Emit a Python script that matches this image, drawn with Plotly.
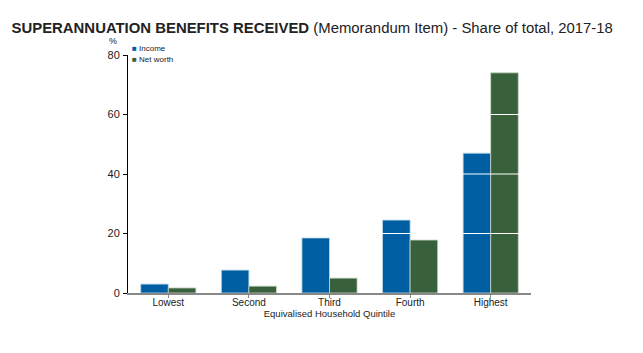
import plotly.graph_objects as go

categories = ["Lowest", "Second", "Third", "Fourth", "Highest"]
income = [3.0, 7.7, 18.5, 24.5, 47.0]
net_worth = [1.7, 2.3, 5.0, 17.8, 74.0]
y_ticks = [0, 20, 40, 60, 80]

BLUE = "#005EA2"
GREEN = "#38603A"
FONT = "Liberation Sans, Arial, sans-serif"

fig = go.Figure()
fig.add_trace(go.Bar(name="Income", x=categories, y=income, showlegend=False,
                     marker=dict(color=BLUE, line=dict(color="#BFD8EA", width=0.8))))
fig.add_trace(go.Bar(name="Net worth", x=categories, y=net_worth, showlegend=False,
                     marker=dict(color=GREEN, line=dict(color="#C8D4C8", width=0.8))))

for v in y_ticks[1:-1]:
    fig.add_shape(type="line", xref="paper", x0=0, x1=1, yref="y", y0=v, y1=v,
                  line=dict(color="white", width=1.2), layer="above")

legend_anns = []
for i, (name, col) in enumerate([("Income", BLUE), ("Net worth", GREEN)]):
    legend_anns.append(dict(
        text=f"<span style='color:{col}'>■</span> {name}",
        xref="paper", yref="paper", x=0.006, y=1.0, yshift=7 - 11 * i,
        xanchor="left", yanchor="middle", showarrow=False,
        font=dict(size=8, family=FONT, color="#222")))

fig.update_layout(
    width=643, height=353,
    margin=dict(l=128, r=112, t=55, b=60),
    paper_bgcolor="white", plot_bgcolor="white",
    barmode="group", bargap=0.316, bargroupgap=0.0,
    font=dict(family=FONT, color="#222"),
    title=dict(text="<b>SUPERANNUATION BENEFITS RECEIVED</b> (Memorandum Item) - Share of total, 2017-18",
               x=0.018, xanchor="left", y=0.922, yanchor="middle",
               font=dict(size=14.9, family=FONT, color="#222")),
    showlegend=False,
    xaxis=dict(showgrid=False, showline=True, linecolor="#888", linewidth=2,
               ticks="outside", ticklen=3, tickcolor="#888", ticklabelstandoff=-4,
               tickfont=dict(size=10, family=FONT, color="#222"),
               title=dict(text="Equivalised Household Quintile", standoff=2,
                          font=dict(size=9.5, family=FONT, color="#222"))),
    yaxis=dict(range=[0, 80], tickvals=y_ticks, showgrid=False, zeroline=False,
               showline=True, linecolor="black", linewidth=1,
               ticks="outside", ticklen=4, tickcolor="black", ticklabelstandoff=1,
               tickfont=dict(size=11, family=FONT, color="#222")),
    annotations=[dict(text="%", xref="paper", yref="paper", x=-0.037, y=1.0, yshift=7,
                      xanchor="center", yanchor="bottom", showarrow=False,
                      font=dict(size=9, family=FONT, color="#222"))] + legend_anns,
)

fig.write_html("out.html")
